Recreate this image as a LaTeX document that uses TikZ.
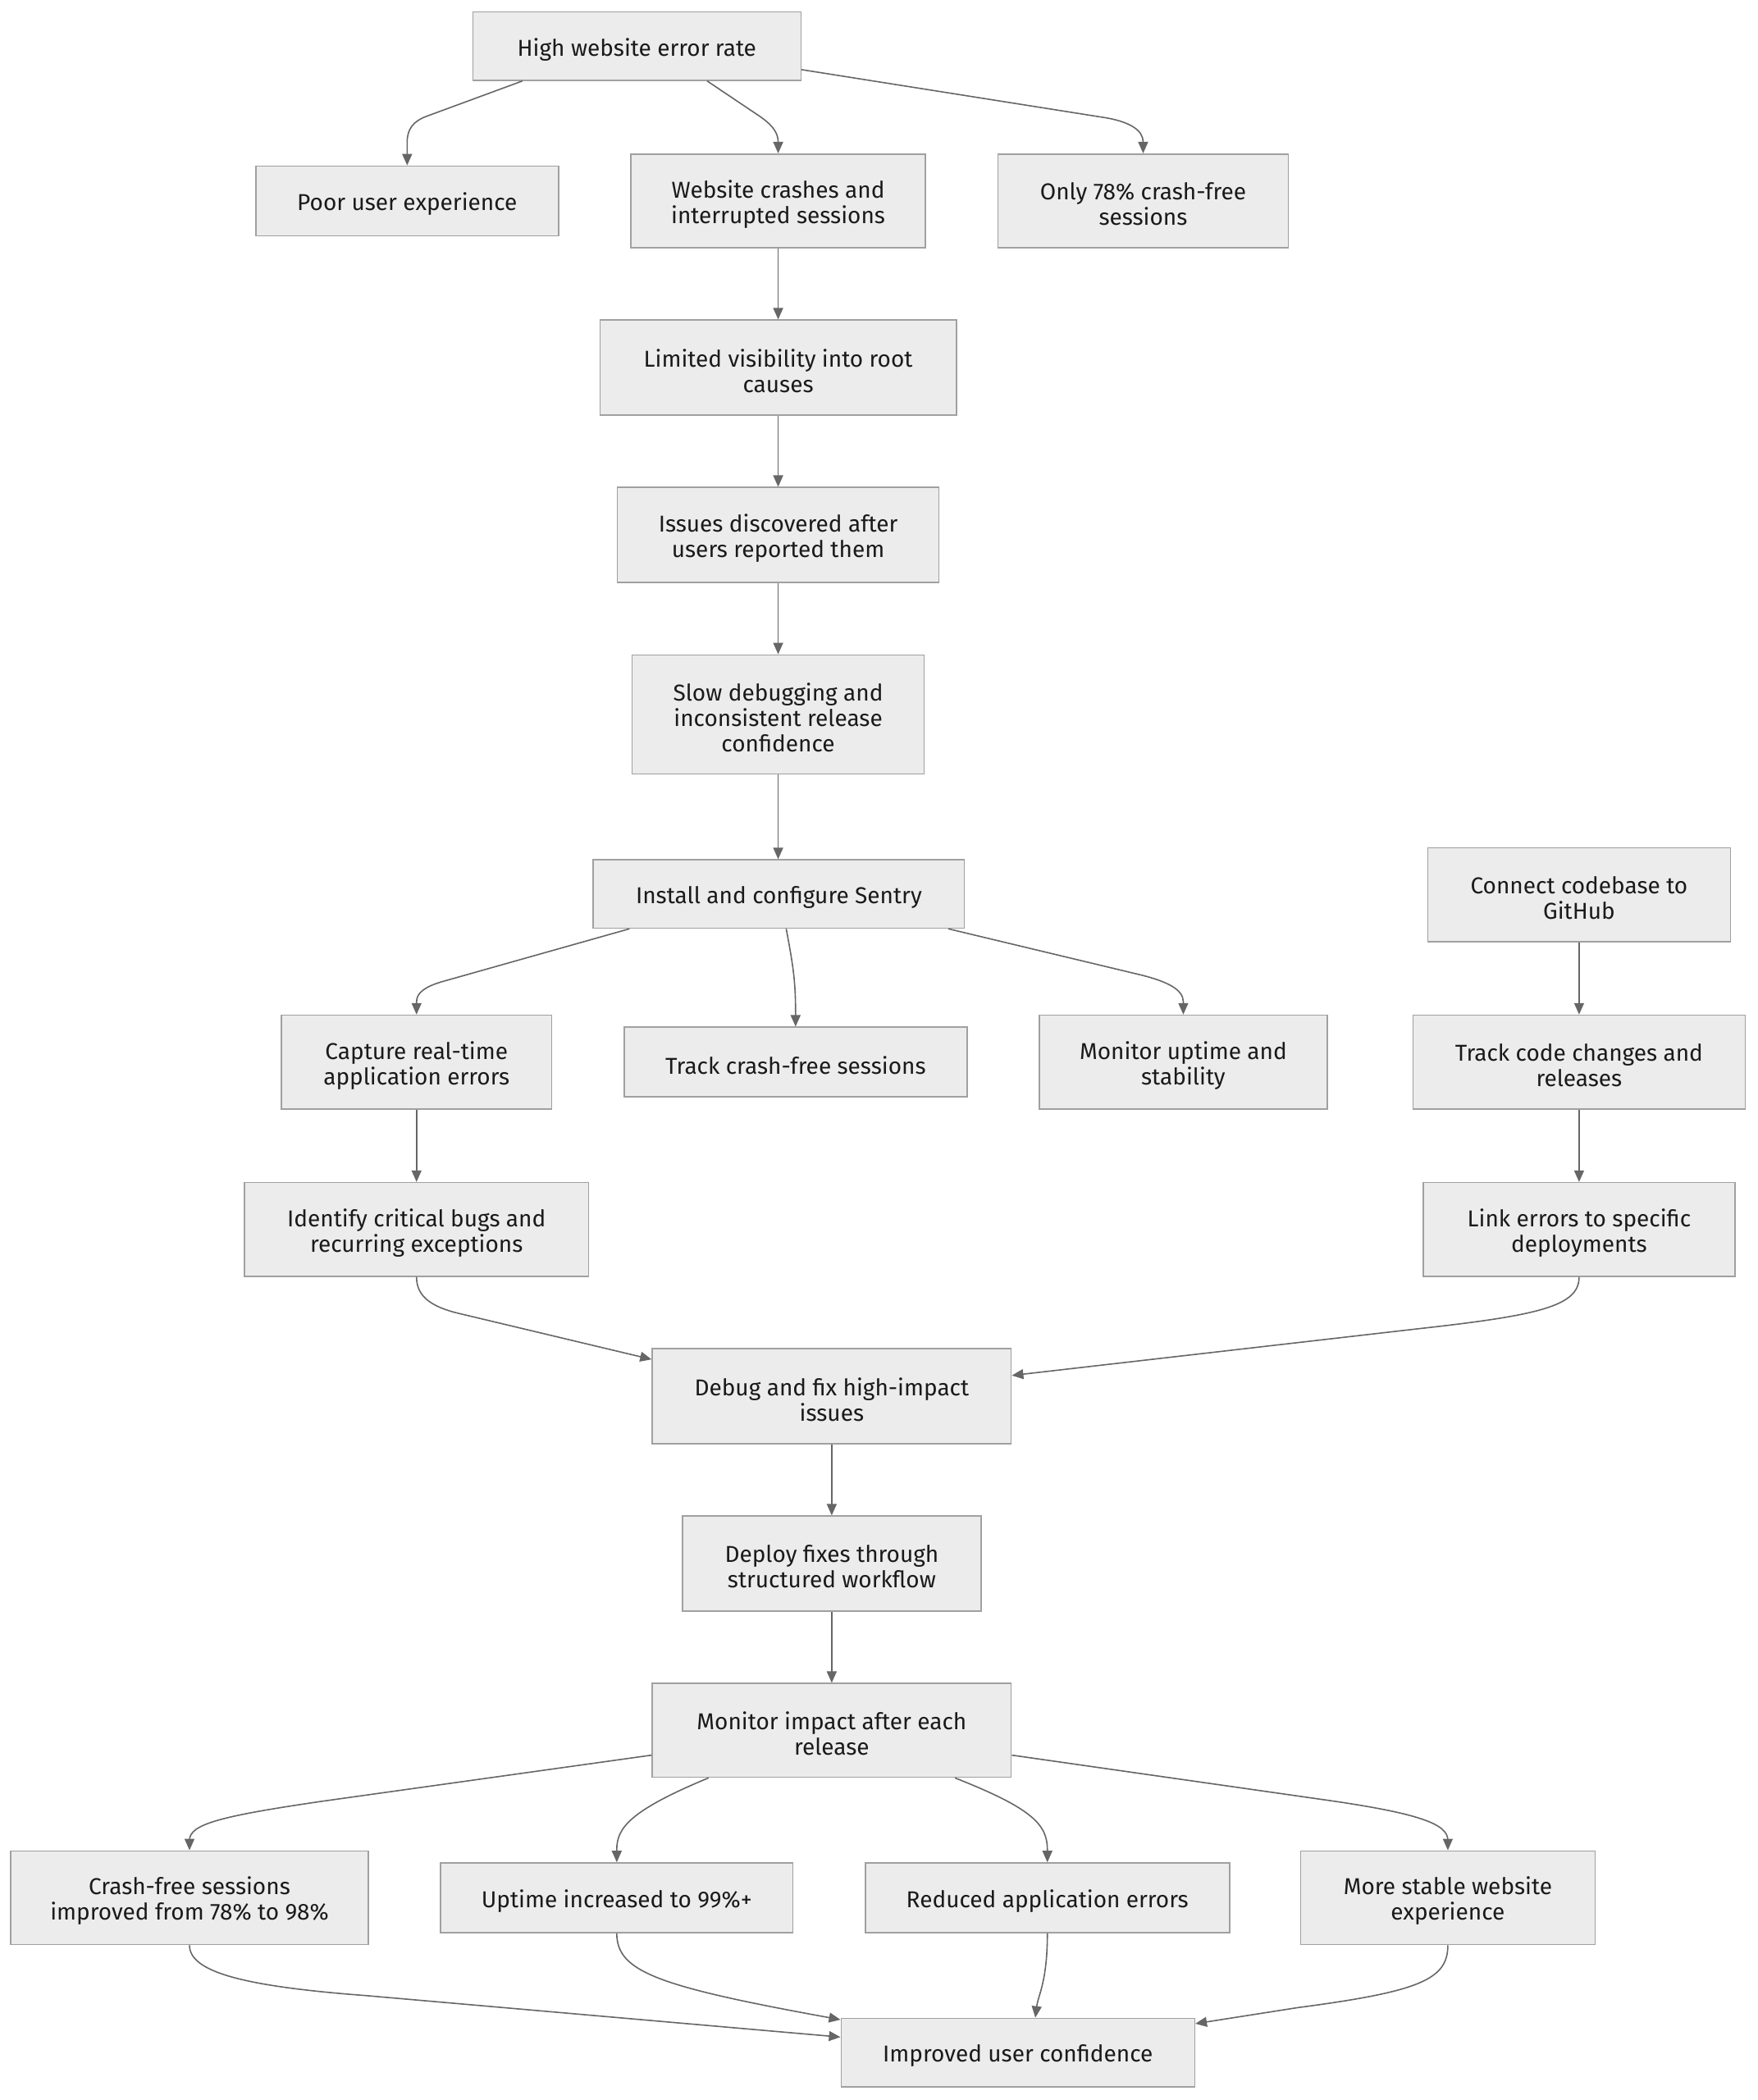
\documentclass[tikz,border=0pt]{standalone}
\usepackage{fontspec}
\setmainfont{Fira Sans}
\usetikzlibrary{arrows.meta,calc}
\definecolor{boxfill}{HTML}{ECECEC}
\definecolor{boxline}{HTML}{A0A0A0}
\definecolor{edgecol}{HTML}{666666}
\definecolor{txt}{HTML}{1A1A1A}
\tikzset{
  box/.style={draw=boxline, fill=boxfill, line width=1.6pt, inner sep=0pt},
  boxtext/.style={align=center, text=txt, inner sep=0pt, yshift=-4pt,
    font=\fontsize{28}{31}\selectfont},
  edge/.style={draw=edgecol, line width=1.6pt,
    -{Triangle[length=14pt,width=12pt]}},
}
\newcommand{\bx}[6]{\node[box, minimum width=#4*1.6326pt, minimum height=#5*1.6326pt,
  label={[boxtext]center:#6}] (#1) at (#2,#3) {};}
\begin{document}
\begin{tikzpicture}[x=1.6326pt,y=-1.6326pt]
\useasboundingbox[fill=white] (0,0) rectangle (1312,1568);
\bx{A}{475.5}{34.5}{245}{51}{High website error rate}
\bx{B}{304}{150}{226}{52}{Poor user experience}
\bx{C}{581}{150}{220}{70}{Website crashes and\\interrupted sessions}
\bx{D}{853.5}{150}{217}{70}{Only 78\% crash-free\\sessions}
\bx{E}{581}{274.5}{266}{71}{Limited visibility into root\\causes}
\bx{F}{581}{399.5}{240}{71}{Issues discovered after\\users reported them}
\bx{G}{581}{533.5}{218}{89}{Slow debugging and\\inconsistent release\\confidence}
\bx{H}{581.5}{667.5}{277}{51}{Install and configure Sentry}
\bx{I}{1179}{668}{226}{70}{Connect codebase to\\GitHub}
\bx{J}{311}{793}{202}{70}{Capture real-time\\application errors}
\bx{K}{594}{793}{256}{52}{Track crash-free sessions}
\bx{L}{883.5}{793}{215}{70}{Monitor uptime and\\stability}
\bx{M}{1179}{793}{248}{70}{Track code changes and\\releases}
\bx{N}{311}{918}{257}{70}{Identify critical bugs and\\recurring exceptions}
\bx{O}{1179}{918}{233}{70}{Link errors to specific\\deployments}
\bx{P}{621}{1042.5}{268}{71}{Debug and fix high-impact\\issues}
\bx{Q}{621}{1167.5}{223}{71}{Deploy fixes through\\structured workflow}
\bx{R}{621}{1292}{268}{70}{Monitor impact after each\\release}
\bx{S}{141.5}{1417}{267}{70}{Crash-free sessions\\improved from 78\% to 98\%}
\bx{T}{460.5}{1417}{263}{52}{Uptime increased to 99\%+}
\bx{U}{782}{1417}{272}{52}{Reduced application errors}
\bx{V}{1081}{1417}{220}{70}{More stable website\\experience}
\bx{W}{760}{1532.5}{264}{51}{Improved user confidence}

\draw[edge] ($(A.south)+(-85.5,0)$) -- (318,87) .. controls (309,90.5) and (304,96) .. (304,106) -- (B.north);
\draw[edge] ($(A.south)+(52.5,0)$) -- (566,86) .. controls (575,92) and (581,98) .. (581,106) -- (C.north);
\draw[edge] ($(A.east)+(0,17.5)$) -- (826,88) .. controls (843,91) and (853.5,97) .. (853.5,106) -- (D.north);
\draw[edge] (C.south) -- (E.north);
\draw[edge] (E.south) -- (F.north);
\draw[edge] (F.south) -- (G.north);
\draw[edge] (G.south) -- (G.south |- H.north);
\draw[edge] ($(H.south)+(-111.5,0)$) -- (330,733) .. controls (318,736.5) and (311,741) .. (311,748) -- (J.north);
\draw[edge] ($(H.south)+(5.5,0)$) .. controls (593,725) and (594,735) .. (K.north);
\draw[edge] ($(H.south)+(126.5,0)$) -- (852,728) .. controls (872,733) and (883.5,739) .. (883.5,748) -- (L.north);
\draw[edge] (I.south) -- (M.north);
\draw[edge] (J.south) -- (N.north);
\draw[edge] (M.south) -- (O.north);
\draw[edge] (N.south) .. controls (311,968) and (322,976) .. (344,981) -- ($(P.west)+(0,-27.5)$);
\draw[edge] (O.south) .. controls (1179,975) and (1150,982) .. (1060,992) -- ($(P.east)+(0,-15.5)$);
\draw[edge] (P.south) -- (Q.north);
\draw[edge] (Q.south) -- (R.north);
\draw[edge] ($(R.west)+(0,18.5)$) -- (240,1345) .. controls (165,1356) and (141.5,1362) .. (141.5,1374) -- (S.north);
\draw[edge] ($(R.south)+(-92,0)$) .. controls (470,1352) and (460.5,1365) .. (460.5,1381) -- (T.north);
\draw[edge] ($(R.south)+(92,0)$) .. controls (770,1350) and (782,1362) .. (782,1381) -- (U.north);
\draw[edge] ($(R.east)+(0,18.5)$) -- (990,1344) .. controls (1060,1354) and (1081,1362) .. (1081,1374) -- (V.north);
\draw[edge] (S.south) .. controls (141.5,1472) and (180,1483) .. (273,1490) -- ($(W.west)+(0,-11.5)$);
\draw[edge] (T.south) .. controls (460.5,1472) and (490,1483) .. ($(W.west)+(0,-24.5)$);
\draw[edge] (U.south) .. controls (782,1480) and (775,1490) .. ($(W.north)+(13,0)$);
\draw[edge] (V.south) .. controls (1081,1478) and (1060,1487) .. (969,1499) -- ($(W.east)+(0,-21.5)$);
\end{tikzpicture}
\end{document}
